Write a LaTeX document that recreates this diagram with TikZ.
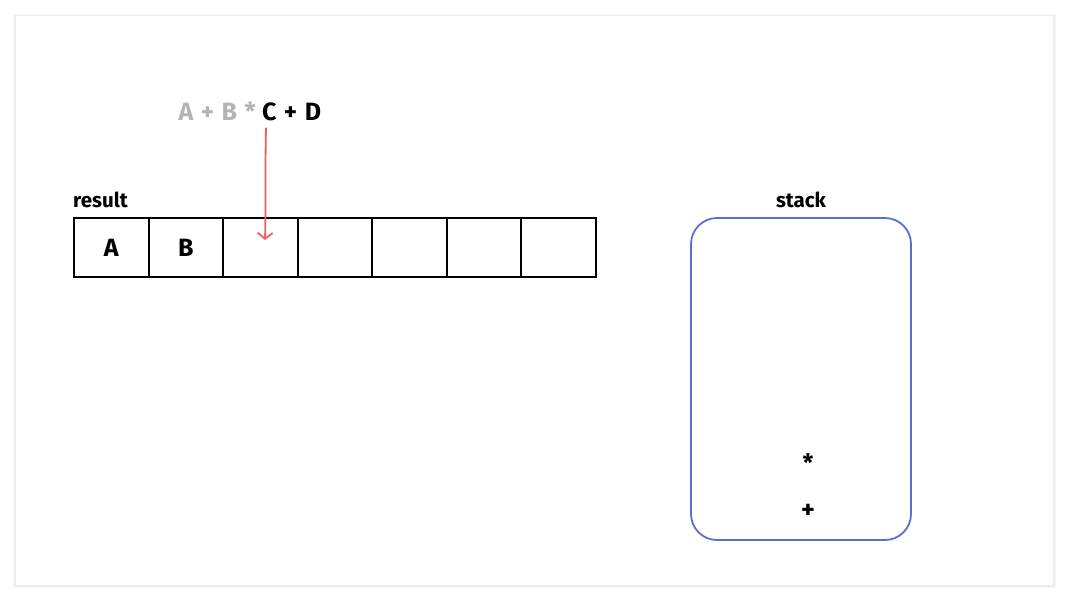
\documentclass[tikz,border=0pt]{standalone}
\usepackage{fontspec}
\setmainfont{Fira Sans}
\usetikzlibrary{arrows.meta,positioning}
\definecolor{arrowred}{HTML}{F25F5F}
\definecolor{stackblue}{HTML}{5C6FD1}
\definecolor{donegray}{HTML}{B4B4B4}
\newcommand{\exprfont}{\bfseries\fontsize{25}{28}\selectfont\spaceskip=0.3em\relax}

\begin{document}
\begin{tikzpicture}[x=1pt,y=-1pt,node distance=0pt,>={Straight Barb[length=6pt,width=15pt]}]

	\tikzstyle{cell}=[
		rectangle,
		draw=black,
		line width=2pt,
		minimum width=74.57pt,
		minimum height=59pt,
		outer sep=0pt,
		inner sep=0pt,
		font=\bfseries\fontsize{25}{28}\selectfont
	]
	\tikzstyle{lbl}=[
		inner sep=0pt,
		font=\bfseries\fontsize{20.5}{24}\selectfont
	]
	\tikzstyle{expr}=[
		inner sep=0pt,
		text height=18pt,
		text depth=0pt,
		font=\exprfont
	]

	% background and card
	\useasboundingbox (0,0) rectangle (1068,600);
	\fill[white] (0,0) rectangle (1068,600);
	\fill[black!3] (13,14) rectangle (1056,588);
	\fill[black!6] (14,15) rectangle (1055,587);
	\fill[white, draw=black!8] (15,15) rectangle (1053,585);

	% expression
	\node [expr, text=donegray, anchor=base east] (done) at (256,120) {A + B *};
	\node [expr, anchor=base west] (cur) at (262,120) {C};
	\node [expr, right=7pt of cur] (todo) {+ D};

	% result array
	\node [cell] (c1) at (111.3,247.5) {A};
	\node [cell, right=of c1] (c2) {B};
	\node [cell, right=of c2] (c3) {};
	\node [cell, right=of c3] (c4) {};
	\node [cell, right=of c4] (c5) {};
	\node [cell, right=of c5] (c6) {};
	\node [cell, right=of c6] (c7) {};
	\node [lbl, anchor=west] (result) at (73,200) {result};

	% stack
	\node [draw=stackblue, line width=1.8pt, rounded corners=26pt, minimum width=220pt, minimum height=322pt] (stack) at (801,379) {};
	\node [lbl] (stacklabel) at (801,200) {stack};
	\node [lbl, font=\bfseries\fontsize{24}{26}\selectfont] (mul) at (808,463) {*};
	\node [lbl, font=\bfseries\fontsize{26}{28}\selectfont] (add) at (808,511) {+};

	\coordinate (tip) at (265,240);
	\draw[->, arrowred, line width=1.8pt, line cap=round] ([xshift=4pt,yshift=-8pt]cur.south west) .. controls (265,170) and (266,200) .. (tip);

\end{tikzpicture}
\end{document}
